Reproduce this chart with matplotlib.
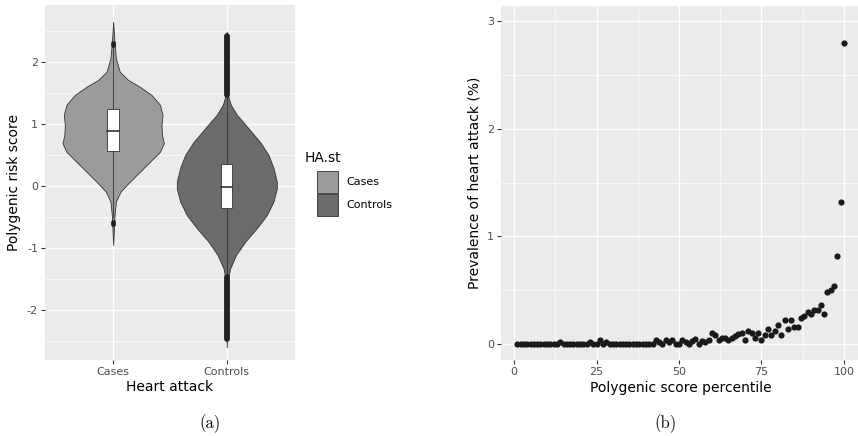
#!/usr/bin/env python3
"""polygenic_heart_attack.py"""

import matplotlib.pyplot as plt
import numpy as np
from matplotlib.patches import Rectangle

# Panel (a): violin outlines (score, half width)
groups = ["Cases", "Controls"]
group_fill = ["#9b9b9b", "#6b6b6b"]

cases_score = [2.65, 2.30, 2.06, 1.84, 1.71, 1.60, 1.47, 1.31, 1.15, 0.98,
               0.82, 0.69, 0.55, 0.39, 0.23, 0.07, -0.09, -0.25, -0.47,
               -0.60, -0.95]
cases_width = [0.0, 0.012, 0.024, 0.059, 0.132, 0.235, 0.337, 0.411, 0.434,
               0.425, 0.430, 0.446, 0.411, 0.323, 0.235, 0.147, 0.065, 0.024,
               0.012, 0.009, 0.0]

controls_score = [2.49, 1.47, 1.31, 1.15, 0.93, 0.71, 0.50, 0.29, 0.07,
                  -0.04, -0.25, -0.47, -0.68, -0.90, -1.11, -1.33, -1.49,
                  -2.00, -2.60]
controls_width = [0.0, 0.009, 0.035, 0.088, 0.191, 0.293, 0.367, 0.411,
                  0.440, 0.440, 0.411, 0.352, 0.264, 0.161, 0.082, 0.029,
                  0.012, 0.006, 0.0]

# box stats: q1, median, q3, lower whisker, upper whisker
cases_box = [0.56, 0.89, 1.24, -0.50, 2.22]
controls_box = [-0.36, -0.01, 0.35, -1.45, 1.45]

cases_outliers = [2.27, 2.30, -0.58, -0.61]
# controls outliers are so dense they merge into solid strips
controls_outlier_ranges = [(1.46, 2.42), (-2.47, -1.46)]

# Panel (b): prevalence by polygenic score percentile
percentile = list(range(1, 101))
prevalence = [
    0, 0, 0, 0, 0, 0, 0, 0, 0, 0,
    0, 0, 0, 0.02, 0, 0, 0, 0, 0, 0,
    0, 0, 0.02, 0, 0, 0.04, 0, 0.02, 0, 0,
    0, 0, 0, 0, 0, 0, 0, 0, 0, 0,
    0, 0, 0.04, 0.02, 0, 0.04, 0.02, 0.04, 0, 0,
    0.04, 0.02, 0, 0.03, 0.05, 0, 0.03, 0.02, 0.04, 0.10,
    0.08, 0.04, 0.06, 0.06, 0.04, 0.06, 0.07, 0.09, 0.10, 0.04,
    0.12, 0.10, 0.06, 0.10, 0.04, 0.08, 0.14, 0.08, 0.12, 0.18,
    0.08, 0.22, 0.14, 0.22, 0.16, 0.16, 0.24, 0.26, 0.30, 0.28,
    0.32, 0.32, 0.36, 0.28, 0.48, 0.50, 0.54, 0.82, 1.32, 2.80,
]

PANEL_BG = "#EBEBEB"
TICK_TEXT = "#4D4D4D"

# ggplot prints a plain hyphen for negatives
plt.rcParams["axes.unicode_minus"] = False


def ggplot_axes(ax):
    ax.set_facecolor(PANEL_BG)
    for s in ax.spines.values():
        s.set_visible(False)
    ax.grid(which="major", color="white", linewidth=1.0)
    ax.grid(which="minor", color="white", linewidth=0.5)
    ax.set_axisbelow(True)
    ax.tick_params(which="major", length=3, width=0.8, color="#333333",
                   labelsize=8, labelcolor=TICK_TEXT, pad=2)
    ax.tick_params(which="minor", length=0)


def plot_violin(ax):
    ggplot_axes(ax)
    profiles = [(cases_score, cases_width), (controls_score, controls_width)]
    boxes = [cases_box, controls_box]
    for i, (score, width) in enumerate(profiles):
        pos = i + 1
        y = np.array(score)
        w = np.array(width)
        ax.fill_betweenx(y, pos - w, pos + w, facecolor=group_fill[i],
                         edgecolor="#333333", linewidth=0.6, zorder=2)
        q1, med, q3, lo, hi = boxes[i]
        ax.plot([pos, pos], [q3, hi], color="#333333", lw=0.6, zorder=3)
        ax.plot([pos, pos], [lo, q1], color="#333333", lw=0.6, zorder=3)
        ax.add_patch(Rectangle((pos - 0.05, q1), 0.1, q3 - q1,
                               facecolor="white", edgecolor="#333333",
                               linewidth=0.6, zorder=4))
        ax.plot([pos - 0.05, pos + 0.05], [med, med], color="#333333",
                lw=1.2, zorder=5)

    ax.scatter([1] * len(cases_outliers), cases_outliers, s=12,
               color="#222222", zorder=5, linewidths=0)
    for lo, hi in controls_outlier_ranges:
        ax.plot([2, 2], [lo, hi], color="#222222", lw=4.2,
                solid_capstyle="round", zorder=5)

    ax.set_xlim(0.4, 2.6)
    ax.set_ylim(-2.806, 2.919)
    ax.set_xticks([1, 2])
    ax.set_xticklabels(groups)
    ax.set_yticks([-2, -1, 0, 1, 2])
    ax.set_yticks(np.arange(-2.5, 3, 1.0), minor=True)
    ax.set_xlabel("Heart attack", fontsize=10, labelpad=2)
    ax.set_ylabel("Polygenic risk score", fontsize=10, labelpad=4)


def plot_prevalence(ax):
    ggplot_axes(ax)
    ax.scatter(percentile, prevalence, s=20, color="#1a1a1a", linewidths=0,
               zorder=3)
    ax.set_xlim(-3.94, 104.85)
    ax.set_ylim(-0.149, 3.14)
    ax.set_xticks([0, 25, 50, 75, 100])
    ax.set_xticks([12.5, 37.5, 62.5, 87.5], minor=True)
    ax.set_yticks([0, 1, 2, 3])
    ax.set_yticks([0.5, 1.5, 2.5], minor=True)
    ax.set_xlabel("Polygenic score percentile", fontsize=10, labelpad=3)
    ax.set_ylabel("Prevalence of heart attack (%)", fontsize=10, labelpad=4)


def legend(fig):
    W, H = 858, 436
    fig.text(305 / W, 1 - 158 / H, "HA.st", fontsize=10, va="center",
             ha="left", color="black")
    tops = [171, 194]
    for i, name in enumerate(groups):
        fig.add_artist(Rectangle((317 / W, 1 - (tops[i] + 22) / H),
                                 21 / W, 22 / H, transform=fig.transFigure,
                                 facecolor=group_fill[i],
                                 edgecolor="#333333", linewidth=0.6))
        fig.text(346 / W, 1 - (tops[i] + 11) / H, name, fontsize=8,
                 va="center", ha="left", color="black")


def main():
    W, H = 858, 436
    fig = plt.figure(figsize=(W / 100, H / 100), dpi=100)
    ax_a = fig.add_axes([45 / W, 76 / H, 250 / W, 355 / H])
    ax_b = fig.add_axes([501 / W, 76 / H, 359 / W, 354 / H])
    plot_violin(ax_a)
    plot_prevalence(ax_b)
    legend(fig)

    fig.text(210 / W, 12 / H, "(a)", fontsize=12, family="cmr10",
             ha="center", va="center")
    fig.text(665 / W, 12 / H, "(b)", fontsize=12, family="cmr10",
             ha="center", va="center")
    fig.savefig("out.png", dpi=100)


if __name__ == "__main__":
    main()
